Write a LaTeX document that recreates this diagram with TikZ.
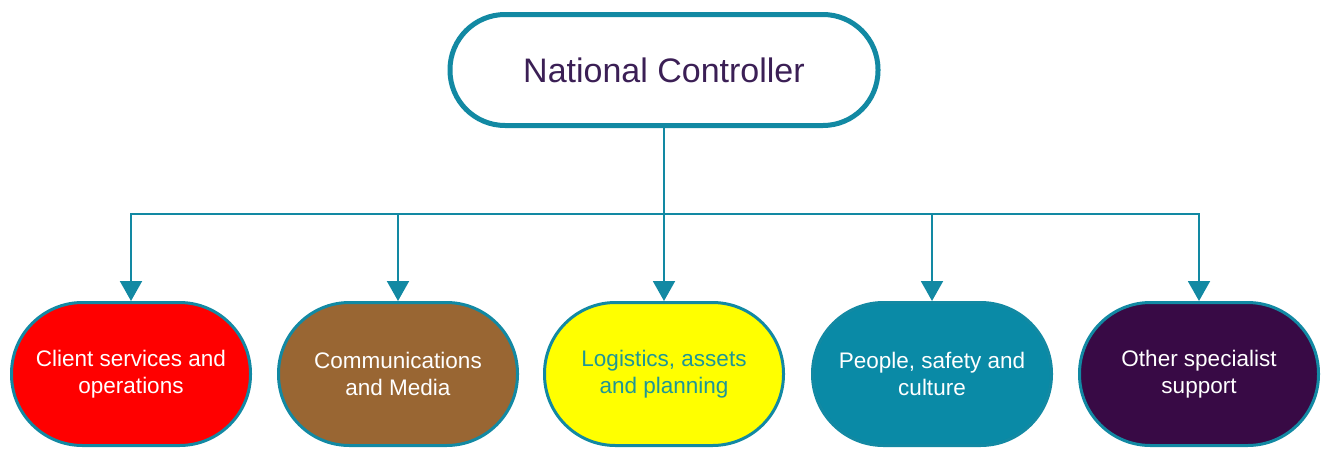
\documentclass[tikz,border=0pt]{standalone}
\usepackage{fontspec}
\setmainfont{Liberation Sans}
\usetikzlibrary{arrows.meta}

\definecolor{tealline}{HTML}{1289A3}
\definecolor{headtext}{HTML}{3B1F55}
\definecolor{unitred}{HTML}{FF0000}
\definecolor{unitbrown}{HTML}{996633}
\definecolor{unityellow}{HTML}{FFFF00}
\definecolor{unitteal}{HTML}{0A8AA6}
\definecolor{unitpurple}{HTML}{380A45}
\definecolor{yellowtext}{HTML}{1F9696}

\tikzset{
  head/.style={draw=tealline,line width=5pt,fill=white,rounded corners=55pt,
    minimum width=428pt,minimum height=111pt,text=headtext,
    font=\fontsize{34}{40}\selectfont},
  unit/.style={draw=tealline,line width=3pt,rounded corners=71pt,
    minimum width=239pt,minimum height=143pt,align=center,text=white,
    font=\fontsize{22.5}{27}\selectfont},
  link/.style={tealline,line width=2pt},
  arrowlink/.style={link,-{Triangle[width=22pt,length=20pt]}}
}

\begin{document}
\begin{tikzpicture}[x=1pt,y=1pt]
  \useasboundingbox (0,0) rectangle (1322,-450);
  \coordinate (bus) at (0,-214);

  \node[head] (ctrl) at (664,-70) {National Controller};

  \node[unit,fill=unitred] (client) at (131,-374) {Client services and\\operations};
  \node[unit,fill=unitbrown] (comms) at (398,-374) {Communications\\and Media};
  \node[unit,fill=unityellow,text=yellowtext] (logist) at (664,-374) {Logistics, assets\\and planning};
  \node[unit,fill=unitteal] (people) at (932,-374) {People, safety and\\culture};
  \node[unit,fill=unitpurple] (other) at (1199,-374) {Other specialist\\support};

  \draw[link] (ctrl.south) -- (ctrl.south |- bus);
  \foreach \u in {client,comms,logist,people,other}
    \draw[arrowlink] (ctrl.south |- bus) -| (\u.north);
\end{tikzpicture}
\end{document}
